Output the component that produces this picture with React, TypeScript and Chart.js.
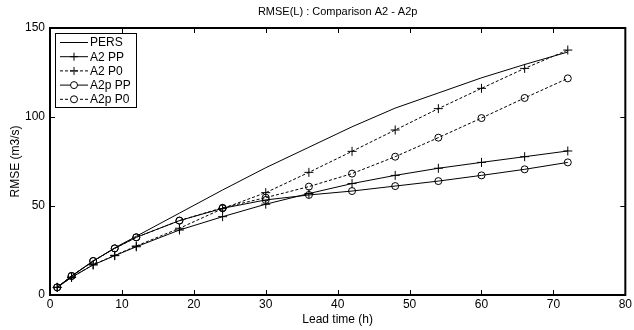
import React, { useEffect, useRef } from 'react';
import { Chart, registerables } from 'chart.js';

Chart.register(...registerables);

const leadTimes = [1, 3, 6, 9, 12, 18, 24, 30, 36, 42, 48, 54, 60, 66, 72];
const persValues = [4.3, 10.5, 19, 26.5, 33, 46, 59, 71.5, 83, 94.5, 105, 113.5, 122, 129.5, 136.5];
const a2PPValues = [4.3, 9.9, 16.9, 22.1, 27.1, 36.5, 44, 51, 57, 62.6, 67.2, 71.2, 74.5, 77.7, 80.9];
const a2P0Values = [4.3, 10, 17, 22.3, 27.5, 37.5, 48.5, 57.5, 68.9, 80.7, 92.7, 104.7, 116.1, 127.3, 137.6];
const a2pPPValues = [4.3, 10.7, 19.1, 26.2, 32.4, 41.8, 48.7, 53.4, 56.2, 58.4, 61.2, 64, 67.2, 70.6, 74.5];
const a2pP0Values = [4.3, 10.7, 19.1, 26.2, 32.4, 41.8, 49, 54.7, 60.9, 68.2, 77.7, 88.4, 99.4, 110.7, 121.7];

const xTickValues = [0, 10, 20, 30, 40, 50, 60, 70, 80];
const yTickValues = [0, 50, 100, 150];

const seriesLabels = ['PERS', 'A2 PP', 'A2 P0', 'A2p PP', 'A2p P0'];
const seriesMarkers = ['none', 'cross', 'cross', 'circle', 'circle'];
const seriesDashed = [false, false, true, false, true];

const titleText = 'RMSE(L) : Comparison A2 - A2p';
const xTitle = 'Lead time (h)';
const yTitle = 'RMSE (m3/s)';

const FONT = '"Liberation Sans", Arial, sans-serif';
const DASH = [3, 2];

const toPoints = (vals: number[]) => vals.map((v, i) => ({ x: leadTimes[i], y: v }));

const boxPlugin = {
  id: 'matlabBox',
  afterDraw(chart: any) {
    const { ctx, chartArea } = chart;
    const { left, right, top, bottom } = chartArea;
    const xs = chart.scales.x;
    const ys = chart.scales.y;
    ctx.save();
    ctx.strokeStyle = '#000';
    ctx.lineWidth = 1;
    ctx.beginPath();
    xTickValues.forEach((v) => {
      const px = Math.round(xs.getPixelForValue(v)) + 0.5;
      ctx.moveTo(px, bottom);
      ctx.lineTo(px, bottom - 5);
      ctx.moveTo(px, top);
      ctx.lineTo(px, top + 5);
    });
    yTickValues.forEach((v) => {
      const py = Math.round(ys.getPixelForValue(v)) + 0.5;
      ctx.moveTo(left, py);
      ctx.lineTo(left + 5, py);
      ctx.moveTo(right, py);
      ctx.lineTo(right - 5, py);
    });
    ctx.stroke();
    ctx.lineWidth = 2;
    ctx.strokeRect(left, top, right - left, bottom - top);

    // legend
    const lx = 55, ly = 33, lw = 81, lh = 74;
    ctx.fillStyle = '#fff';
    ctx.fillRect(lx, ly, lw, lh);
    ctx.lineWidth = 1;
    ctx.strokeRect(lx + 0.5, ly + 0.5, lw, lh);
    ctx.font = `12px ${FONT}`;
    ctx.textBaseline = 'middle';
    ctx.textAlign = 'left';
    seriesLabels.forEach((label, i) => {
      const y = 42.5 + i * 14.2;
      ctx.strokeStyle = '#000';
      ctx.lineWidth = 1;
      ctx.setLineDash(seriesDashed[i] ? DASH : []);
      ctx.beginPath();
      ctx.moveTo(60, y);
      ctx.lineTo(88, y);
      ctx.stroke();
      ctx.setLineDash([]);
      const cx = 74;
      if (seriesMarkers[i] === 'cross') {
        ctx.beginPath();
        ctx.moveTo(cx - 4, y);
        ctx.lineTo(cx + 4, y);
        ctx.moveTo(cx, y - 4);
        ctx.lineTo(cx, y + 4);
        ctx.stroke();
      } else if (seriesMarkers[i] === 'circle') {
        ctx.fillStyle = '#fff';
        ctx.beginPath();
        ctx.arc(cx, y, 3.5, 0, Math.PI * 2);
        ctx.fill();
        ctx.stroke();
      }
      ctx.fillStyle = '#000';
      ctx.fillText(label, 90, y + 0.5);
    });
    ctx.restore();
  },
};

export default function App() {
  const canvasRef = useRef<HTMLCanvasElement | null>(null);

  useEffect(() => {
    document.body.style.margin = '0';
    const canvas = canvasRef.current;
    if (!canvas) return;
    const allValues = [persValues, a2PPValues, a2P0Values, a2pPPValues, a2pP0Values];
    const datasets = allValues.map((vals, i) => ({
      label: seriesLabels[i],
      data: toPoints(vals),
      borderColor: '#000',
      backgroundColor: 'rgba(0,0,0,0)',
      borderWidth: 1,
      borderDash: seriesDashed[i] ? DASH : [],
      pointStyle: seriesMarkers[i] === 'none' ? false : seriesMarkers[i],
      pointRadius: seriesMarkers[i] === 'none' ? 0 : seriesMarkers[i] === 'cross' ? 4.5 : 3.5,
      pointBorderColor: '#000',
      pointBackgroundColor: 'rgba(0,0,0,0)',
      pointBorderWidth: 1,
      tension: 0,
    }));
    const chart = new Chart(canvas, {
      type: 'line',
      data: { datasets } as any,
      plugins: [boxPlugin],
      options: {
        animation: false,
        responsive: false,
        devicePixelRatio: 1,
        layout: { padding: { left: 0, right: 5, top: 0, bottom: 0 } },
        plugins: {
          legend: { display: false },
          tooltip: { enabled: false },
          title: {
            display: true,
            text: titleText,
            fullSize: false,
            color: '#000',
            font: { family: FONT, size: 11, weight: 'normal' },
            padding: { top: 5.5, bottom: 9.3 },
          },
        },
        scales: {
          x: {
            type: 'linear',
            min: 0,
            max: 80,
            afterBuildTicks: (scale: any) => {
              scale.ticks = xTickValues.map((v) => ({ value: v }));
            },
            afterFit: (scale: any) => {
              scale.height = 35;
            },
            grid: { display: false, drawTicks: false },
            border: { display: false },
            ticks: {
              color: '#000',
              padding: 2,
              maxRotation: 0,
              autoSkip: false,
              font: { family: FONT, size: 12 },
            },
            title: {
              display: true,
              text: xTitle,
              color: '#000',
              font: { family: FONT, size: 12 },
              padding: { top: 0, bottom: 2.8 },
            },
          },
          y: {
            type: 'linear',
            min: 0,
            max: 150,
            afterBuildTicks: (scale: any) => {
              scale.ticks = yTickValues.map((v) => ({ value: v }));
            },
            afterFit: (scale: any) => {
              scale.width = 50;
            },
            grid: { display: false, drawTicks: false },
            border: { display: false },
            ticks: {
              color: '#000',
              padding: 5,
              autoSkip: false,
              font: { family: FONT, size: 12 },
            },
            title: {
              display: true,
              text: yTitle,
              color: '#000',
              font: { family: FONT, size: 12 },
              padding: { top: 8.3, bottom: 0 },
            },
          },
        },
      } as any,
    });
    return () => chart.destroy();
  }, []);

  return (
    <div style={{ width: 634, height: 330 }}>
      <canvas ref={canvasRef} width={634} height={330} style={{ display: 'block' }} />
    </div>
  );
}
